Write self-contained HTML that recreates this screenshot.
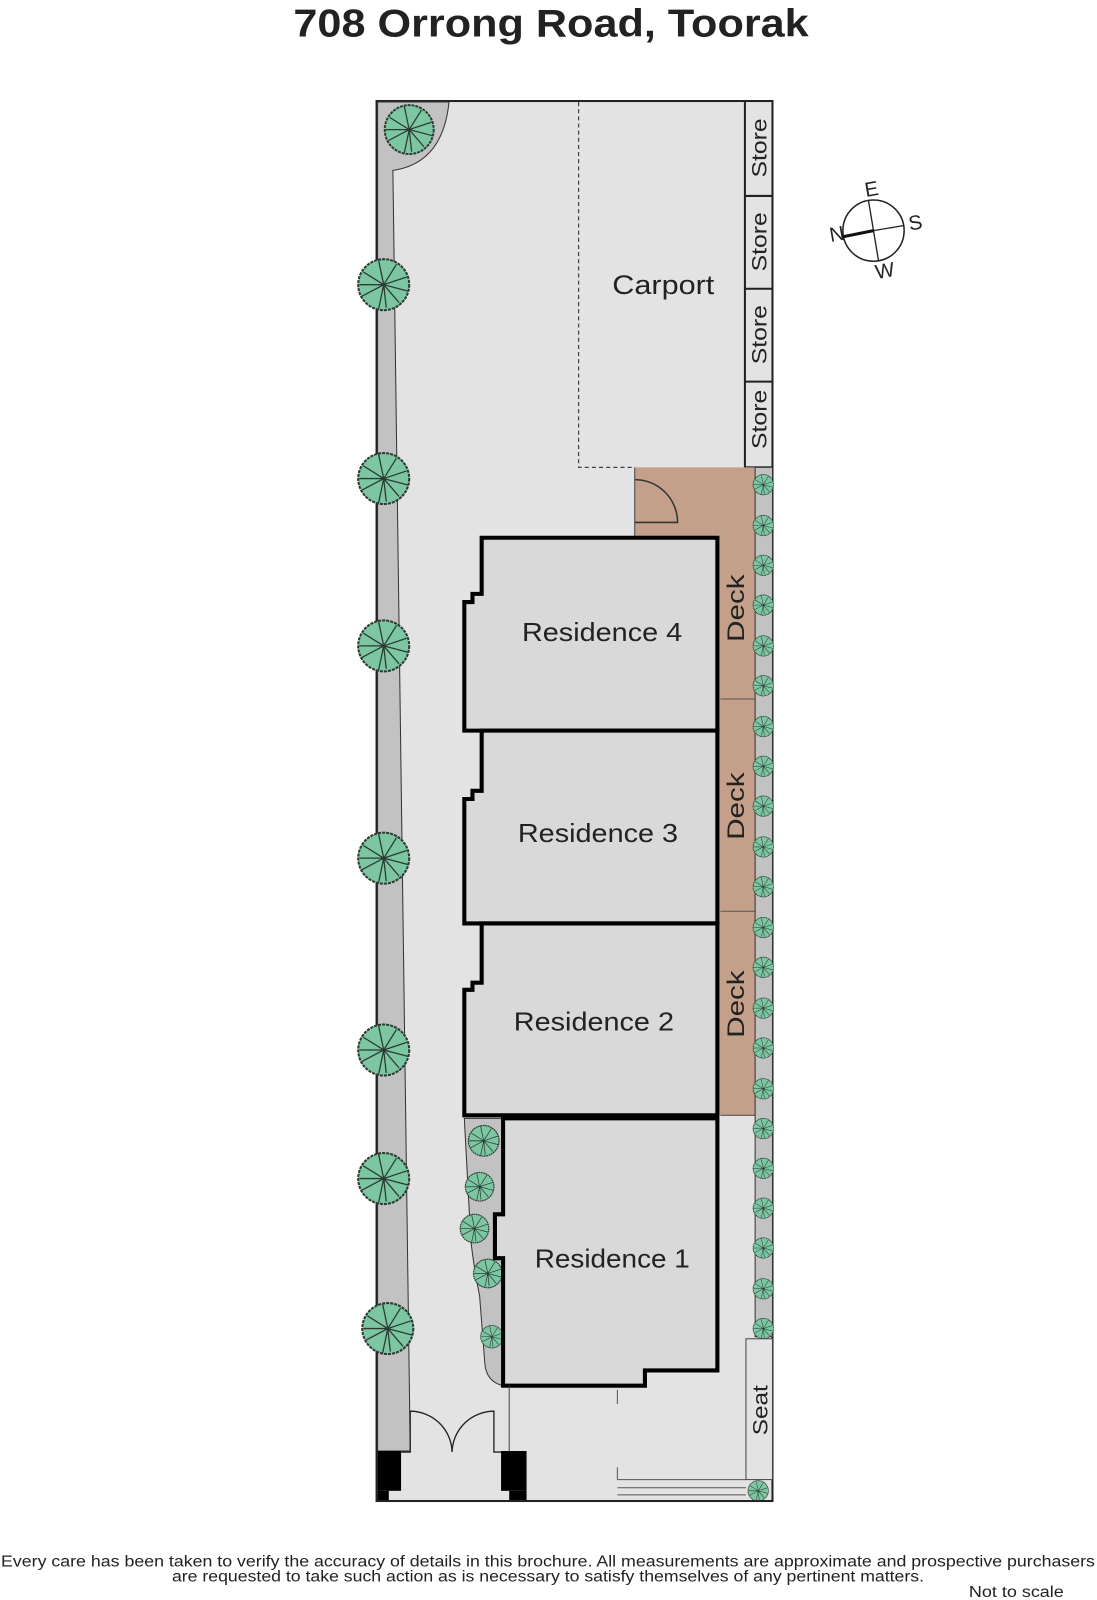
<!DOCTYPE html>
<html><head><meta charset="utf-8">
<style>
html,body{margin:0;padding:0;background:#fff;}
svg{display:block;}
text{font-family:"Liberation Sans",sans-serif;fill:#222;}
</style></head>
<body>
<svg width="1097" height="1600" viewBox="0 0 1075 1568" xmlns="http://www.w3.org/2000/svg">
<defs>
<g id="tree">
<circle r="1" fill="#7cc6a2" stroke="#2b3a33" stroke-width="0.08" stroke-dasharray="0.12 0.04"/>
<g stroke="#2b3a33" stroke-width="0.05" fill="none">
<path d="M0,0 L0.9,-0.3 M0,0 L0.6,0.7 M0,0 L-0.2,0.95 M0,0 L-0.85,0.45 M0,0 L-0.8,-0.5 M0,0 L-0.2,-0.95 M0,0 L0.5,-0.8 M0,0 L0.95,0.25 M0,0 L0.1,0.9 M0,0 L-0.95,0"/>
</g>
</g>
</defs>

<text x="540" y="36" font-size="38" font-weight="bold" text-anchor="middle" fill="#111" textLength="505" lengthAdjust="spacingAndGlyphs">708 Orrong Road, Toorak</text>

<!-- site -->
<rect x="369" y="99" width="388" height="1372" fill="#e3e3e3" stroke="#222" stroke-width="2"/>
<path d="M370,100 L440,100 Q434,160 385,167 L402,1422 L370,1422 Z" fill="#c2c2c2" stroke="#333" stroke-width="1"/>
<path d="M567,100 V458 H622" fill="none" stroke="#444" stroke-width="1.2" stroke-dasharray="4 3"/>
<text x="650" y="288" font-size="26" text-anchor="middle" textLength="100" lengthAdjust="spacingAndGlyphs">Carport</text>
<rect x="730" y="99" width="27" height="359" fill="#e3e3e3" stroke="#222" stroke-width="2"/>
<path d="M730,192 H757 M730,283 H757 M730,374 H757" stroke="#222" stroke-width="2"/>
<g font-size="21">
<text transform="translate(751,145) rotate(-90)" text-anchor="middle" textLength="58" lengthAdjust="spacingAndGlyphs">Store</text>
<text transform="translate(751,237) rotate(-90)" text-anchor="middle" textLength="58" lengthAdjust="spacingAndGlyphs">Store</text>
<text transform="translate(751,328) rotate(-90)" text-anchor="middle" textLength="58" lengthAdjust="spacingAndGlyphs">Store</text>
<text transform="translate(751,411) rotate(-90)" text-anchor="middle" textLength="58" lengthAdjust="spacingAndGlyphs">Store</text>
</g>
<rect x="622" y="458" width="118" height="635" fill="#c4a08a"/>
<path d="M622,458 V527" stroke="#444" stroke-width="1"/>
<path d="M622,470 A42,42 0 0 1 664,512 L622,512" fill="none" stroke="#333" stroke-width="1.5"/>
<path d="M706,685 H740 M706,893 H740 M706,1093 H757" stroke="#555" stroke-width="1"/>
<g font-size="24">
<text transform="translate(729,596) rotate(-90)" text-anchor="middle" textLength="66" lengthAdjust="spacingAndGlyphs">Deck</text>
<text transform="translate(729,790) rotate(-90)" text-anchor="middle" textLength="66" lengthAdjust="spacingAndGlyphs">Deck</text>
<text transform="translate(729,984) rotate(-90)" text-anchor="middle" textLength="66" lengthAdjust="spacingAndGlyphs">Deck</text>
</g>
<rect x="740" y="458" width="17" height="852" fill="#c2c2c2" stroke="#333" stroke-width="1"/>
<g>
<use href="#tree" transform="translate(748,475) scale(10)"/>
<use href="#tree" transform="translate(748,515) scale(10)"/>
<use href="#tree" transform="translate(748,554) scale(10)"/>
<use href="#tree" transform="translate(748,593) scale(10)"/>
<use href="#tree" transform="translate(748,633) scale(10)"/>
<use href="#tree" transform="translate(748,672) scale(10)"/>
<use href="#tree" transform="translate(748,712) scale(10)"/>
<use href="#tree" transform="translate(748,751) scale(10)"/>
<use href="#tree" transform="translate(748,790) scale(10)"/>
<use href="#tree" transform="translate(748,830) scale(10)"/>
<use href="#tree" transform="translate(748,869) scale(10)"/>
<use href="#tree" transform="translate(748,909) scale(10)"/>
<use href="#tree" transform="translate(748,948) scale(10)"/>
<use href="#tree" transform="translate(748,988) scale(10)"/>
<use href="#tree" transform="translate(748,1027) scale(10)"/>
<use href="#tree" transform="translate(748,1067) scale(10)"/>
<use href="#tree" transform="translate(748,1106) scale(10)"/>
<use href="#tree" transform="translate(748,1145) scale(10)"/>
<use href="#tree" transform="translate(748,1184) scale(10)"/>
<use href="#tree" transform="translate(748,1223) scale(10)"/>
<use href="#tree" transform="translate(748,1263) scale(10)"/>
<use href="#tree" transform="translate(748,1302) scale(10)"/>
<use href="#tree" transform="translate(743,1461) scale(10)"/>
</g>
<rect x="731" y="1312" width="26" height="138" fill="#e3e3e3" stroke="#444" stroke-width="1"/>
<text transform="translate(752,1382) rotate(-90)" font-size="21" text-anchor="middle" textLength="49" lengthAdjust="spacingAndGlyphs">Seat</text>
<path d="M605,1450 H731 M605,1458 H731 M605,1465 H731" stroke="#555" stroke-width="1"/>
<path d="M605,1362 V1376 M605,1438 V1450" stroke="#555" stroke-width="1"/>

<path d="M455,1096 L493,1096 L493,1358 Q476,1354 475,1335 L470,1270 Q460,1220 460,1190 Z" fill="#c2c2c2" stroke="#333" stroke-width="1"/>
<use href="#tree" transform="translate(474,1118) scale(15)"/>
<use href="#tree" transform="translate(470,1163) scale(14)"/>
<use href="#tree" transform="translate(465,1204) scale(14)"/>
<use href="#tree" transform="translate(478,1248) scale(14)"/>
<use href="#tree" transform="translate(482,1310) scale(11)"/>

<g fill="#d9d9d9" stroke="#000" stroke-width="4" stroke-linejoin="miter">
<path d="M472,527 H703 V716 H455 V590 H463 V582 H472 Z"/>
<path d="M472,716 H703 V905 H455 V783 H463 V775 H472 Z"/>
<path d="M472,905 H703 V1093 H455 V970 H463 V963 H472 Z"/>
<path d="M493,1096 H703 V1343 H632 V1358 H493 V1233 H485 V1190 H493 Z"/>
</g>
<g font-size="25" text-anchor="middle">
<text x="590" y="628" textLength="157" lengthAdjust="spacingAndGlyphs">Residence 4</text>
<text x="586" y="825" textLength="157" lengthAdjust="spacingAndGlyphs">Residence 3</text>
<text x="582" y="1010" textLength="157" lengthAdjust="spacingAndGlyphs">Residence 2</text>
<text x="600" y="1242" textLength="152" lengthAdjust="spacingAndGlyphs">Residence 1</text>
</g>

<use href="#tree" transform="translate(401,127) scale(24)"/>
<use href="#tree" transform="translate(376,279) scale(25)"/>
<use href="#tree" transform="translate(376,469) scale(25)"/>
<use href="#tree" transform="translate(376,633) scale(25)"/>
<use href="#tree" transform="translate(376,841) scale(25)"/>
<use href="#tree" transform="translate(376,1029) scale(25)"/>
<use href="#tree" transform="translate(376,1155) scale(25)"/>
<use href="#tree" transform="translate(380,1302) scale(25)"/>

<path d="M499,1358 V1422" stroke="#444" stroke-width="1"/>
<path d="M393,1423 H402 V1383 A41,41 0 0 1 443,1423 M491,1423 H484 V1383 A41,41 0 0 0 443,1423" fill="none" stroke="#222" stroke-width="1.3"/>
<rect x="370" y="1422" width="23" height="39" fill="#000"/>
<rect x="370" y="1461" width="11" height="10" fill="#000"/>
<rect x="491" y="1422" width="25" height="39" fill="#000"/>
<rect x="499" y="1461" width="17" height="10" fill="#000"/>
<path d="M369,1471 H757" stroke="#222" stroke-width="2"/>

<circle cx="856" cy="226" r="30" fill="none" stroke="#222" stroke-width="1.5"/>
<path d="M851,196 L861,256" stroke="#222" stroke-width="1.3"/>
<path d="M856,226 L886,221" stroke="#222" stroke-width="1.3"/>
<path d="M826,232 L856,226" stroke="#111" stroke-width="3"/>
<text x="854" y="192" font-size="20" text-anchor="middle" transform="rotate(-10 854 185)">E</text>
<text x="897" y="225" font-size="20" text-anchor="middle" transform="rotate(-10 897 218)">S</text>
<text x="867" y="272" font-size="20" text-anchor="middle" transform="rotate(-10 867 265)">W</text>
<text x="820" y="236" font-size="20" text-anchor="middle" transform="rotate(-10 820 229)">N</text>

<text x="537" y="1535" font-size="15" text-anchor="middle" textLength="1072" lengthAdjust="spacingAndGlyphs">Every care has been taken to verify the accuracy of details in this brochure.  All measurements are approximate and prospective purchasers</text>
<text x="537" y="1550" font-size="15" text-anchor="middle" textLength="737" lengthAdjust="spacingAndGlyphs">are requested to take such action as is necessary to satisfy themselves of any pertinent matters.</text>
<text x="996" y="1565" font-size="15" text-anchor="middle" textLength="93" lengthAdjust="spacingAndGlyphs">Not to scale</text>
</svg>
</body></html>
